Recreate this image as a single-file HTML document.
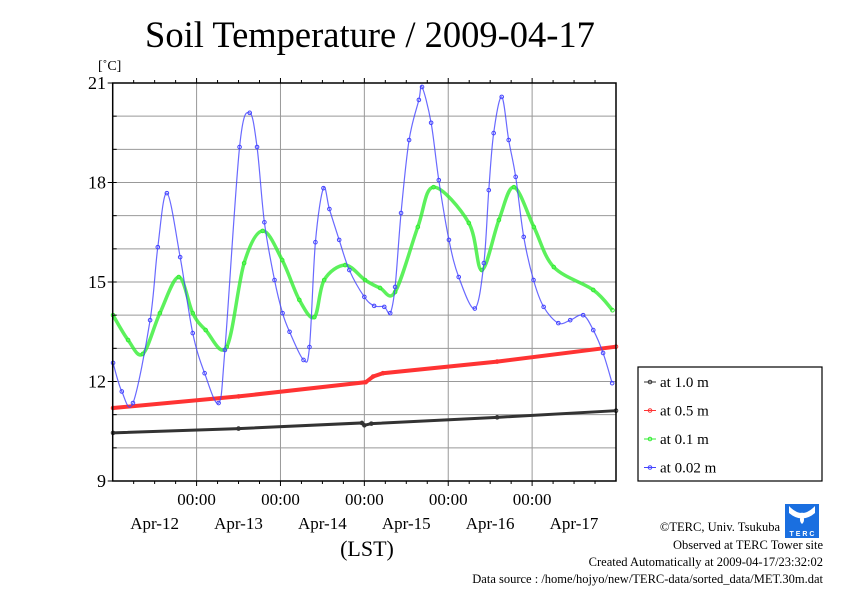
<!DOCTYPE html>
<html><head><meta charset="utf-8"><style>
body{margin:0;background:#fff;}
svg{display:block;font-family:"Liberation Serif",serif;}
</style></head><body>
<svg id="chart" width="842" height="595" viewBox="0 0 842 595" xmlns="http://www.w3.org/2000/svg">
<text x="370" y="47" text-anchor="middle" font-size="36.5">Soil Temperature / 2009-04-17</text>
<text x="98" y="70" font-size="14">[˚C]</text>
<g id="grid"></g>
<g id="series"></g>
<rect x="112.7" y="83" width="503.3" height="398" fill="none" stroke="#000" stroke-width="1.5"/>
<g id="axes"></g>
<text x="367" y="556" text-anchor="middle" font-size="22">(LST)</text>
<g id="legend">
<rect x="638" y="367" width="184" height="114" fill="#fff" stroke="#000" stroke-width="1.2"/>
</g>
<g font-size="12.5" text-anchor="end">
<text x="780" y="531">©TERC, Univ. Tsukuba</text>
<text x="823" y="549">Observed at TERC Tower site</text>
<text x="823" y="566">Created Automatically at 2009-04-17/23:32:02</text>
<text x="823" y="583">Data source : /home/hojyo/new/TERC-data/sorted_data/MET.30m.dat</text>
</g>
<g>
<rect x="785" y="504" width="34" height="34" fill="#1a6fe0"/>
<path d="M789 506 Q802 520 815 506 L815 513 Q802 524 789 513Z" fill="#fff"/>
<path d="M802 512 Q806 521 802 524 Q798 521 802 512Z" fill="#fff"/>
<text x="802" y="536" font-size="7" fill="#fff" text-anchor="middle" font-family="Liberation Sans,sans-serif" font-weight="bold">T E R C</text>
</g>
</svg>
<script>
// hours since axis start
const blueT=[0.1,2.6,5.8,10.7,12.9,15.5,19.3,22.9,26.3,30.3,32.1,36.3,39.2,41.3,43.4,46.3,48.6,50.6,54.6,56.3,58.0,60.3,62.0,64.8,67.7,72.0,74.8,77.7,79.4,80.8,82.5,84.8,87.6,88.5,91.1,93.3,96.2,99.0,103.6,106.2,107.6,109.0,111.3,113.3,115.3,117.6,120.4,123.3,127.5,130.9,134.6,137.5,140.3,142.9];
const blueV=[12.56,11.7,11.35,13.85,16.05,17.68,15.75,13.46,12.25,11.35,12.95,19.07,20.1,19.07,16.8,15.06,14.06,13.5,12.65,13.04,16.2,17.83,17.2,16.27,15.36,14.55,14.28,14.25,14.06,14.85,17.08,19.28,20.49,20.88,19.8,18.07,16.27,15.15,14.2,15.57,17.77,19.49,20.58,19.28,18.17,16.36,15.06,14.25,13.76,13.85,14.0,13.55,12.86,11.95];
const greenT=[0.1,4.4,8.6,13.5,18.9,22.9,26.6,32.6,37.6,42.9,48.5,53.4,57.7,60.5,66.5,72.2,76.5,80.8,87.3,91.8,101.9,105.6,110.5,114.8,120.5,126.2,137.5,143.0];
const greenV=[14.0,13.25,12.83,14.06,15.15,14.06,13.55,13.04,15.57,16.54,15.66,14.46,13.94,15.06,15.51,15.06,14.82,14.7,16.66,17.86,16.78,15.36,16.87,17.86,16.66,15.45,14.76,14.15];
const redT=[0.1,36,72.4,74.5,77.3,110,144];
const redV=[11.2,11.55,11.98,12.15,12.25,12.6,13.05];
const blackT=[0.1,36,71.3,72.0,74,110,144];
const blackV=[10.45,10.58,10.75,10.68,10.73,10.92,11.12];
const yTicks=[9,12,15,18,21];
const dayLabels=["Apr-12","Apr-13","Apr-14","Apr-15","Apr-16","Apr-17"];

const X0=112.7,X1=616,Y0=481,Y1=83,HMAX=144,VMIN=9,VMAX=21;
const xs=h=>X0+h/HMAX*(X1-X0);
const ys=v=>Y0-(v-VMIN)/(VMAX-VMIN)*(Y0-Y1);
const NS="http://www.w3.org/2000/svg";
function mk(tag,attrs,parent){const e=document.createElementNS(NS,tag);for(const k in attrs)e.setAttribute(k,attrs[k]);parent.appendChild(e);return e;}
const grid=document.getElementById('grid'),axes=document.getElementById('axes'),ser=document.getElementById('series');
for(let v=VMIN+1;v<VMAX;v++){const l=mk('line',{x1:X0,x2:X1,y1:ys(v),y2:ys(v),stroke:'#999','stroke-width':1},grid);


const t1=mk('line',{x1:X0,x2:X0+4,y1:ys(v),y2:ys(v),stroke:'#000'},axes);

}
for(let d=1;d<6;d++){const l=mk('line',{x1:xs(d*24),x2:xs(d*24),y1:Y1,y2:Y0,stroke:'#999','stroke-width':1},grid);


const t=mk('text',{x:xs(d*24),y:505,'text-anchor':'middle','font-size':17},axes);t.textContent='00:00';

}
for(let h=6;h<HMAX;h+=6){const big=h%24===0;
const a=mk('line',{x1:xs(h),x2:xs(h),y1:Y0,y2:Y0+(big?5:3),stroke:'#000'},axes);


const b=mk('line',{x1:xs(h),x2:xs(h),y1:Y1,y2:Y1-(big?5:3),stroke:'#000'},axes);

}
dayLabels.forEach((s,i)=>{const t=mk('text',{x:xs((i+1)*24)-42,y:529,'text-anchor':'middle','font-size':17},axes);t.textContent=s;

});
yTicks.forEach(v=>{const t=mk('text',{x:106,y:ys(v)+6,'text-anchor':'end','font-size':18},axes);t.textContent=v;


const k=mk('line',{x1:X0-5,x2:X0,y1:ys(v),y2:ys(v),stroke:'#000'},axes);

});
function smoothPath(T,V){const P=T.map((t,i)=>[xs(t),ys(V[i])]);let d='M'+P[0][0]+','+P[0][1];
for(let i=0;i<P.length-1;i++){const p0=P[Math.max(0,i-1)],p1=P[i],p2=P[i+1],p3=P[Math.min(P.length-1,i+2)];
const c1=[p1[0]+(p2[0]-p0[0])/6,p1[1]+(p2[1]-p0[1])/6],c2=[p2[0]-(p3[0]-p1[0])/6,p2[1]-(p3[1]-p1[1])/6];
d+=' C'+c1[0]+','+c1[1]+' '+c2[0]+','+c2[1]+' '+p2[0]+','+p2[1];}return d;}
function draw(T,V,col,name,lw,op,smooth){const g=mk('g',{},ser);


const p=mk('path',{d:smooth?smoothPath(T,V):'M'+T.map((t,i)=>xs(t)+','+ys(V[i])).join(' L'),fill:'none',stroke:col,'stroke-width':lw,'stroke-opacity':op},g);


T.forEach((t,i)=>{const c=mk('circle',{cx:xs(t),cy:ys(V[i]),r:1.8,fill:'none',stroke:col,'stroke-width':1},g);

});}
draw(blackT,blackV,'#333','series-1-0m',3,1,false);
draw(redT,redV,'#f33','series-0-5m',4,1,false);
draw(greenT,greenV,'#3e3','series-0-1m',3.5,0.8,true);
draw(blueT,blueV,'#44f','series-0-02m',1.2,0.8,true);
const leg=document.getElementById('legend');
[['at 1.0 m','#333'],['at 0.5 m','#f33'],['at 0.1 m','#3e3'],['at 0.02 m','#44f']].forEach((e,i)=>{const y=382+i*28.5;
const l=mk('line',{x1:644,x2:656,y1:y,y2:y,stroke:e[1]},leg);


const c=mk('circle',{cx:650,cy:y,r:1.8,fill:'none',stroke:e[1]},leg);


const t=mk('text',{x:660,y:y+5,'font-size':15},leg);t.textContent=e[0];

});
</script>
</body></html>
